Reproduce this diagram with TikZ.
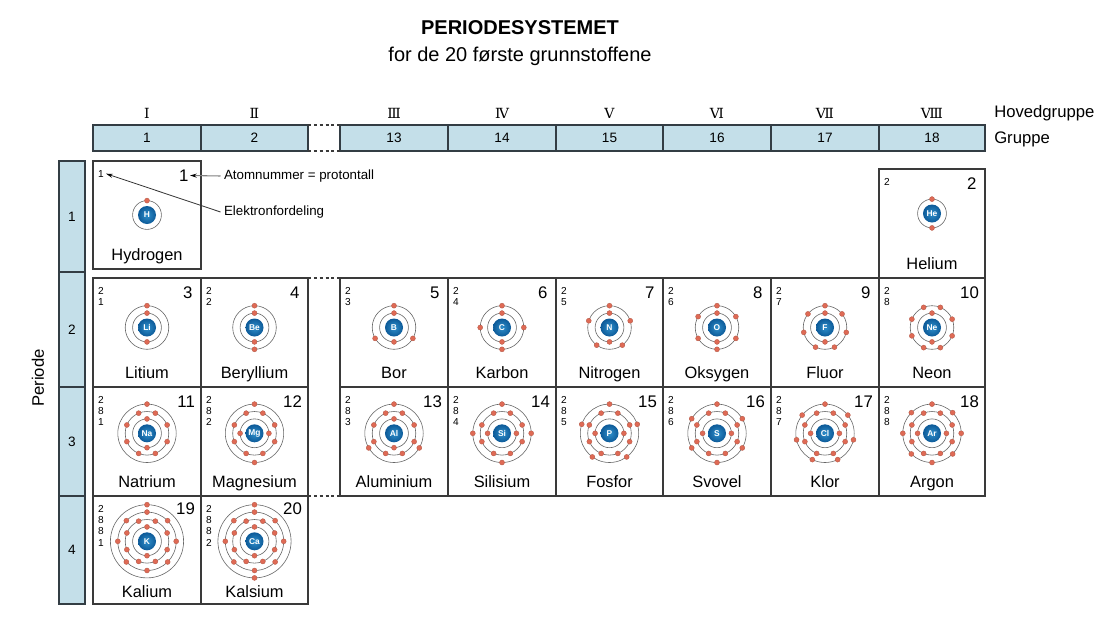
\documentclass[tikz,border=0pt]{standalone}
\usepackage{fontspec}
\setmainfont{Liberation Sans}
\newfontfamily\romfont{DejaVu Serif}
\usetikzlibrary{arrows.meta}
\definecolor{barblue}{HTML}{C4DFE9}
\definecolor{barline}{HTML}{333D44}
\definecolor{cellline}{HTML}{3A3A3A}
\definecolor{ringline}{HTML}{666666}
\definecolor{elecfill}{HTML}{DF6A55}
\definecolor{elecline}{HTML}{B85C4A}
\definecolor{coreinner}{HTML}{2F8FCB}
\definecolor{coreouter}{HTML}{0D5A98}
\tikzset{
    barbox/.style={draw=barline,fill=barblue,line width=0.9pt,inner sep=0,outer sep=0,text height=7.4pt,text depth=0pt,font=\fontsize{10.2}{12}\selectfont},
    cellbox/.style={draw=cellline,line width=0.9pt,inner sep=0,outer sep=0},
    ring/.style={draw=ringline,line width=0.45pt},
    electron/.style={fill=elecfill,draw=elecline,line width=0.3pt},
    nucleus/.style={inner color=coreinner,outer color=coreouter},
    symtext/.style={text=white,font=\bfseries\fontsize{6.3}{7}\selectfont,inner sep=0},
    nametext/.style={font=\fontsize{12.3}{14}\selectfont,anchor=base,inner sep=0},
    numtext/.style={font=\fontsize{12.6}{14}\selectfont,anchor=east,inner sep=1pt},
    shelltext/.style={font=\fontsize{7.6}{9}\selectfont,inner sep=1.5pt},
    sidetext/.style={font=\fontsize{12.5}{14}\selectfont,anchor=west,inner sep=0},
    notetext/.style={font=\fontsize{10}{12}\selectfont,anchor=west,inner sep=2.5pt},
    romtext/.style={font=\romfont\fontsize{10.5}{12}\selectfont,inner sep=0},
    gapline/.style={draw=cellline,line width=0.9pt,dash pattern=on 2.2pt off 2.2pt}
}
\newcommand{\elementcell}[9]{
    \pgfmathsetmacro{\cx}{(#4+#5)/2}
    \pgfmathsetmacro{\numx}{#5-(#3==1?11:(#3<10?7:4.5))}
    \pgfmathsetmacro{\numy}{#6+(#6>490?12.5:14.5)}
    \pgfmathsetmacro{\namey}{#7-(#7>600?7:8.6)}
    \node (cell-#1) [cellbox,minimum width={(#5-#4)*0.75pt},minimum height={(#7-#6)*0.75pt}] at (\cx,{(#6+#7)/2}) {};
    \foreach \ecount/\estart [count=\k] in {#9} {
        \pgfmathsetmacro{\rad}{14.4+7.4*(\k-1)}
        \draw [ring] (\cx,#8) circle [radius=\rad];
        \node (shell-#1-\k) [shelltext] at (#4+8,{#6+12.7+11.3*(\k-1)}) {\ecount};
        \foreach \e in {1,...,\ecount}
            \path [electron] (\cx,#8) ++({-(\estart+360*\e/\ecount)}:\rad) circle [radius=2.5];
    }
    \shade [nucleus] (\cx,#8) circle [radius=9];
    \node (sym-#1) [symtext] at (\cx,#8) {#1};
    \node (name-#1) [nametext] at (\cx,\namey) {#2};
    \node (num-#1) [numtext] at (\numx,\numy) {#3};
}
\begin{document}
\begin{tikzpicture}[x=0.75pt,y=-0.75pt]
    \useasboundingbox (0,0) rectangle (1104,618);
    \node (title) [font=\bfseries\fontsize{15}{18}\selectfont] at (520,28) {PERIODESYSTEMET};
    \node (subtitle) [font=\fontsize{15}{18}\selectfont] at (520,56) {for de 20 første grunnstoffene};

    \foreach \num/\rom/\xa/\xb in {1/Ⅰ/93/201,2/Ⅱ/201/308,13/Ⅲ/340/448,14/Ⅳ/448/556,15/Ⅴ/556/663,16/Ⅵ/663/771,17/Ⅶ/771/879,18/Ⅷ/879/985} {
        \node (group-\num) [barbox,minimum width={(\xb-\xa)*0.75pt},minimum height=19.5pt] at ({(\xa+\xb)/2},138) {\num};
        \node (rom-\num) [romtext] at ({(\xa+\xb)/2},113.5) {\rom};
    }
    \node (hoved) [sidetext] at (994,113.5) {Hovedgruppe};
    \node (gruppe) [sidetext] at (994,139) {Gruppe};
    \draw [gapline] (group-2.north east) -- (group-13.north west);
    \draw [gapline] (group-2.south east) -- (group-13.south west);

    \foreach \num/\ya/\yb in {1/161/272,2/272/387,3/387/496,4/496/604}
        \node (period-\num) [barbox,minimum width=19.5pt,minimum height={(\yb-\ya)*0.75pt}] at (72,{(\ya+\yb)/2}) {\num};
    \node (periode) [rotate=90,font=\fontsize{12.5}{14}\selectfont] at (38,378) {Periode};

    \elementcell{H}{Hydrogen}{1}{93}{201}{161}{269}{215}{1/90}
    \elementcell{He}{Helium}{2}{879}{985}{169}{278}{213.5}{2/90}

    \elementcell{Li}{Litium}{3}{93}{201}{278}{387}{327.5}{2/90,1/90}
    \elementcell{Be}{Beryllium}{4}{201}{308}{278}{387}{327.5}{2/90,2/90}
    \elementcell{B}{Bor}{5}{340}{448}{278}{387}{327.5}{2/90,3/90}
    \elementcell{C}{Karbon}{6}{448}{556}{278}{387}{327.5}{2/90,4/90}
    \elementcell{N}{Nitrogen}{7}{556}{663}{278}{387}{327.5}{2/90,5/90}
    \elementcell{O}{Oksygen}{8}{663}{771}{278}{387}{327.5}{2/90,6/90}
    \elementcell{F}{Fluor}{9}{771}{879}{278}{387}{327.5}{2/90,7/90}
    \elementcell{Ne}{Neon}{10}{879}{985}{278}{387}{327.5}{2/90,8/67.5}

    \elementcell{Na}{Natrium}{11}{93}{201}{387}{496}{433.3}{2/90,8/67.5,1/90}
    \elementcell{Mg}{Magnesium}{12}{201}{308}{387}{496}{433.3}{2/0,8/67.5,2/90}
    \elementcell{Al}{Aluminium}{13}{340}{448}{387}{496}{433.3}{2/90,8/67.5,3/90}
    \elementcell{Si}{Silisium}{14}{448}{556}{387}{496}{433.3}{2/0,8/67.5,4/90}
    \elementcell{P}{Fosfor}{15}{556}{663}{387}{496}{433.3}{2/0,8/67.5,5/90}
    \elementcell{S}{Svovel}{16}{663}{771}{387}{496}{433.3}{2/0,8/67.5,6/90}
    \elementcell{Cl}{Klor}{17}{771}{879}{387}{496}{433.3}{2/0,8/67.5,7/90}
    \elementcell{Ar}{Argon}{18}{879}{985}{387}{496}{433.3}{2/0,8/67.5,8/90}

    \elementcell{K}{Kalium}{19}{93}{201}{496}{604}{541.3}{2/90,8/67.5,8/90,1/90}
    \elementcell{Ca}{Kalsium}{20}{201}{308}{496}{604}{541.3}{2/90,8/67.5,8/90,2/90}

    \draw [gapline] (cell-Be.north east) -- (cell-B.north west);
    \draw [gapline] (cell-Mg.south east) -- (cell-Al.south west);

    \node (atomnote) [notetext] at (220.5,176) {Atomnummer = protontall};
    \node (elecnote) [notetext] at (220.5,212) {Elektronfordeling};
    \draw [gray,line width=0.8pt,-{Stealth[black,length=5pt,width=3pt]}] (atomnote.west) -- (num-H.east);
    \draw [black!80,line width=0.6pt,-{Stealth[black,length=5pt,width=3pt]}] (elecnote.west) -- (shell-H-1.east);
\end{tikzpicture}
\end{document}
